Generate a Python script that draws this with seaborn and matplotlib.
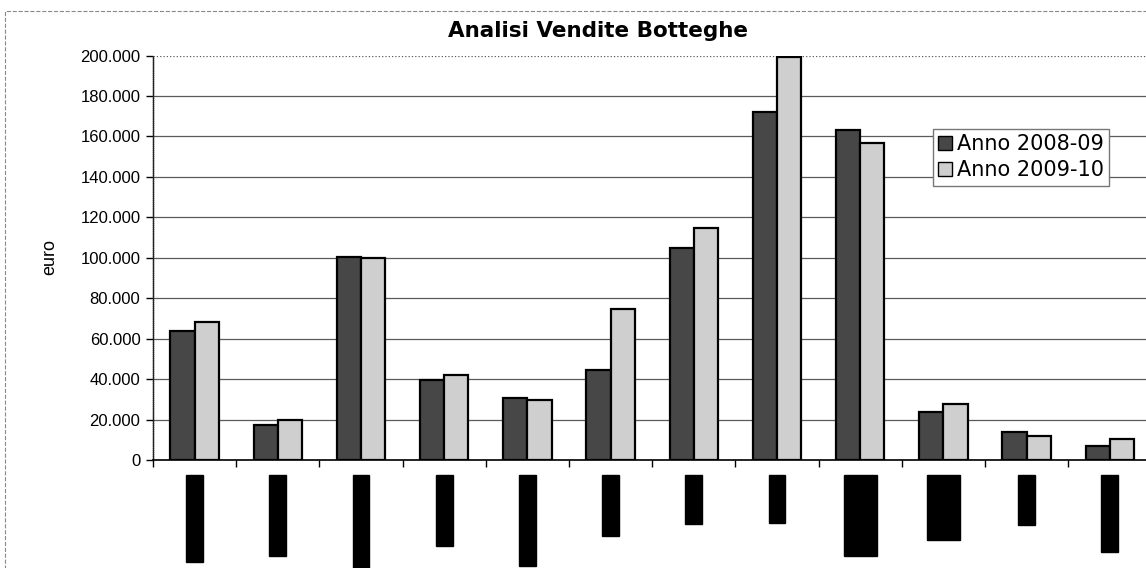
import matplotlib
matplotlib.use("Agg")
import matplotlib.pyplot as plt
import matplotlib.patches as mpatches
from matplotlib.ticker import FuncFormatter, FixedLocator
import numpy as np
import pandas as pd
import seaborn as sns

# nomi delle botteghe (oscurati nell'originale)
botteghe = ["Montebelluna", "Castelfranco", "Valdobbiadene", "Pordenone",
            "Mestre Centro", "Cittadella", "Oderzo", "Treviso",
            "Castelfranco\nVeneto", "San Donà\ndi Piave", "Padova", "Portogruaro"]
vendite_2008 = [64000, 17500, 100500, 39500, 30500, 44500, 105000, 172000,
                163000, 23500, 14000, 7000]
vendite_2009 = [68000, 20000, 99700, 42000, 29700, 74500, 114500, 199500,
                156500, 27500, 12000, 10500]
serie = ["Anno 2008-09", "Anno 2009-10"]
colori = ["#474747", "#cfcfcf"]

df = pd.DataFrame({
    "bottega": botteghe * 2,
    "anno": [serie[0]] * len(botteghe) + [serie[1]] * len(botteghe),
    "euro": vendite_2008 + vendite_2009,
})

sns.set_theme(style="white")
plt.rcParams["font.family"] = ["Liberation Sans", "DejaVu Sans"]
plt.rcParams["text.color"] = "black"
plt.rcParams["axes.labelcolor"] = "black"
plt.rcParams["xtick.color"] = "black"
plt.rcParams["ytick.color"] = "black"

fig = plt.figure(figsize=(11.46, 5.68), dpi=100)
ax = fig.add_axes([153 / 1146, 1 - 460 / 568, 1 - 153 / 1146, (460 - 55.5) / 568])

sns.barplot(data=df, x="bottega", y="euro", hue="anno", palette=colori,
            width=0.58, gap=0, edgecolor="black", linewidth=1.6,
            saturation=1, ax=ax, legend=True)

ax.set_ylim(0, 200000)
ax.set_xlim(-0.5, -0.5 + 993 / 83.2)
ax.yaxis.set_major_locator(FixedLocator(np.arange(0, 200001, 20000)))
ax.yaxis.set_major_formatter(FuncFormatter(lambda v, p: f"{int(v):,}".replace(",", ".")))
ax.tick_params(axis="y", which="major", direction="out", length=5, width=1,
               color="black", labelcolor="black", labelsize=12, pad=4, left=True)

# griglia orizzontale, la linea in alto tratteggiata
ax.yaxis.grid(True, color="#5a5a5a", linewidth=0.9)
ax.set_axisbelow(True)
ax.get_ygridlines()[-1].set_linestyle(":")

# tacche tra le categorie come in Excel
ax.xaxis.set_minor_locator(FixedLocator(np.arange(-0.5, 12, 1)))
ax.tick_params(axis="x", which="minor", direction="out", length=5, width=1,
               color="black", bottom=True)
ax.tick_params(axis="x", which="major", length=0, pad=12)

ax.set_xticks(range(len(botteghe)))
ax.set_xticklabels(botteghe, rotation=90, fontsize=10, color="black")
for lbl in ax.get_xticklabels():
    lbl.set_bbox(dict(facecolor="black", edgecolor="black", pad=1.0))

ax.set_xlabel("")
ax.set_ylabel("")
for s in ["top", "right"]:
    ax.spines[s].set_visible(False)
ax.spines["left"].set_color("#222222")
ax.spines["left"].set_linewidth(1)
ax.spines["left"].set_linestyle((0, (1, 0.5)))
ax.spines["bottom"].set_color("black")
ax.spines["bottom"].set_linewidth(1.2)

# legenda
handles = [mpatches.Patch(facecolor=c, edgecolor="black", linewidth=1, label=s)
           for c, s in zip(colori, serie)]
leg = ax.legend(handles=handles, loc="upper right",
                bbox_to_anchor=(1109 / 1146, 1 - 129 / 568), bbox_transform=fig.transFigure,
                borderaxespad=0, fancybox=False, frameon=True, edgecolor="#777777",
                prop={"family": "DejaVu Sans", "size": 15},
                handlelength=0.65, handleheight=0.65, handletextpad=0.25,
                labelspacing=0.3, borderpad=0.25, framealpha=1)
for t in leg.get_texts():
    t.set_color("black")

fig.text(598 / 1146, 1 - 36.7 / 568, "Analisi Vendite Botteghe", ha="center",
         va="baseline", fontsize=15.5, fontweight="bold", family="DejaVu Sans",
         color="black")
fig.text(50 / 1146, 1 - 257 / 568, "euro", rotation=90, ha="center", va="center",
         fontsize=13, color="black")

# cornice del grafico
cornice = mpatches.Rectangle((5 / 1146, -0.1), 1.2, 1 - 11 / 568 + 0.1,
                             transform=fig.transFigure, fill=False,
                             edgecolor="#888888", linewidth=0.8, linestyle="--")
fig.patches.append(cornice)

fig.savefig("out.png", dpi=100)
